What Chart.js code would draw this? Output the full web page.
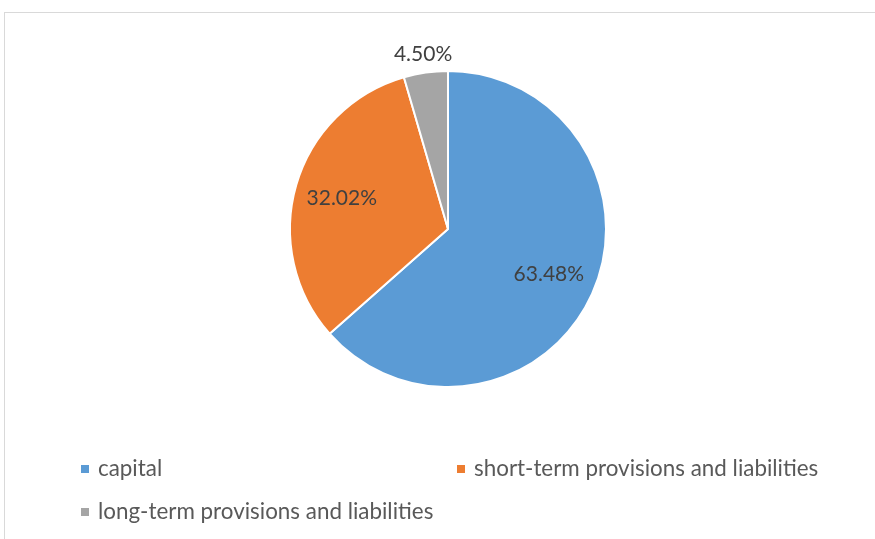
<!DOCTYPE html>
<html>
<head>
<meta charset="utf-8">
<title>Capital structure</title>
<script src="https://cdn.jsdelivr.net/npm/chart.js"></script>
<style>
    html, body { margin: 0; padding: 0; background: #fff; overflow: hidden; }
    body { width: 875px; height: 539px; position: relative; font-family: Lato, sans-serif; }
    .frame { position: absolute; left: 4px; top: 12px; width: 900px; height: 560px;
             border-left: 1px solid #d9d9d9; border-top: 1px solid #d9d9d9; }
    #pie { position: absolute; left: 0; top: 0; }
    .legend { position: absolute; left: 81px; top: 454px; display: grid;
              grid-template-columns: 376px 376px; row-gap: 16px; }
    .legend-item { font-size: 22.4px; color: #595959; line-height: 27px; white-space: nowrap; }
    .legend-box { display: inline-block; width: 8px; height: 8px; margin-right: 9px;
                  vertical-align: 3px; }
</style>
</head>
<body>
<div class="frame"></div>
<canvas id="pie" width="875" height="539"></canvas>
<div class="legend" id="legend"></div>

<script>
    // Data
    const categories = ['capital', 'short-term provisions and liabilities', 'long-term provisions and liabilities'];
    const shares = [63.48, 32.02, 4.50];
    const sliceColors = ['#5b9bd5', '#ed7d31', '#a5a5a5'];

    // Percentage labels, inside the slice or just outside for small ones
    const pieLabels = {
        id: 'pieLabels',
        afterDatasetsDraw(chart, args, opts) {
            const ctx = chart.ctx;
            const meta = chart.getDatasetMeta(0);
            const values = chart.data.datasets[0].data;
            ctx.save();
            ctx.font = opts.font;
            ctx.fillStyle = opts.color;
            ctx.textAlign = 'center';
            ctx.textBaseline = 'middle';
            meta.data.forEach((arc, i) => {
                const p = arc.getProps(['x', 'y', 'startAngle', 'endAngle', 'outerRadius'], true);
                const mid = (p.startAngle + p.endAngle) / 2;
                const k = values[i] < 10 ? opts.outside : opts.inside;
                const x = p.x + Math.cos(mid) * p.outerRadius * k;
                const y = p.y + Math.sin(mid) * p.outerRadius * k;
                ctx.fillText(values[i].toFixed(2) + '%', x, y);
            });
            ctx.restore();
        }
    };

    new Chart(document.getElementById('pie'), {
        type: 'pie',
        data: {
            labels: categories,
            datasets: [{
                data: shares,
                backgroundColor: sliceColors,
                borderColor: '#ffffff',
                borderWidth: 2
            }]
        },
        options: {
            responsive: false,
            animation: false,
            layout: { padding: { left: 289, right: 268, top: 70, bottom: 151 } },
            plugins: {
                legend: { display: false },
                tooltip: { enabled: false },
                pieLabels: { font: '21px Lato', color: '#404040', inside: 0.7, outside: 1.12 }
            }
        },
        plugins: [pieLabels]
    });

    // Legend laid out in two columns like the original
    const legend = document.getElementById('legend');
    categories.forEach((name, i) => {
        const item = document.createElement('div');
        item.className = 'legend-item';
        const box = document.createElement('span');
        box.className = 'legend-box';
        box.style.background = sliceColors[i];
        item.appendChild(box);
        item.appendChild(document.createTextNode(name));
        legend.appendChild(item);
    });
</script>
</body>
</html>
